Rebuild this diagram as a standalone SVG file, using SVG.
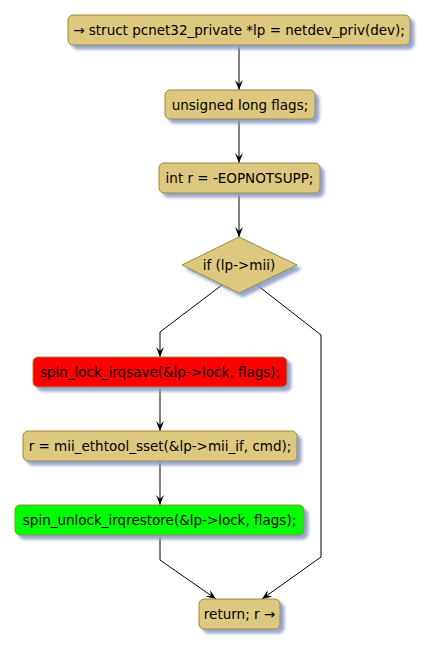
<svg xmlns="http://www.w3.org/2000/svg" width="429" height="648" viewBox="0 0 429 648">
<defs>
<filter id="sh" x="-10%" y="-20%" width="130%" height="160%">
<feGaussianBlur in="SourceAlpha" stdDeviation="1.5" result="b"/>
<feOffset in="b" dx="4" dy="4" result="o"/>
<feFlood flood-color="#8d9ec4" flood-opacity="0.9"/>
<feComposite in2="o" operator="in" result="s"/>
<feMerge><feMergeNode in="s"/><feMergeNode in="SourceGraphic"/></feMerge>
</filter>
<marker id="ah" viewBox="0 0 10 10" refX="10" refY="5" markerWidth="10" markerHeight="10" markerUnits="userSpaceOnUse" orient="auto">
<path d="M0,1 L10,5 L0,9 L4,5 Z" fill="#000"/>
</marker>
</defs>
<style>
.n{fill:#dcc87e;stroke:#9c8840;stroke-width:1;filter:url(#sh)}
.r{fill:#ff0000}
.g{fill:#00ff00}
text{font-family:"DejaVu Sans",sans-serif;font-size:13.5px;fill:#000;text-anchor:middle}
.c{fill:none;stroke:#000;stroke-width:1}
</style>
<g id="connectors">
<line class="c" x1="239" y1="45" x2="239" y2="90" marker-end="url(#ah)"/>
<line class="c" x1="239" y1="119" x2="239" y2="163" marker-end="url(#ah)"/>
<line class="c" x1="239" y1="193" x2="239" y2="237" marker-end="url(#ah)"/>
<polyline class="c" points="222,285 160,332 160,357" marker-end="url(#ah)"/>
<polyline class="c" points="257,285 321,335 321,557 262,599" marker-end="url(#ah)"/>
<line class="c" x1="160" y1="387" x2="160" y2="431" marker-end="url(#ah)"/>
<line class="c" x1="160" y1="461" x2="160" y2="505" marker-end="url(#ah)"/>
<polyline class="c" points="160,535 160,560 216,599" marker-end="url(#ah)"/>
</g>
<g id="n1"><rect class="n" x="68" y="15" width="342" height="30" rx="5"/><text x="239" y="35">→ struct pcnet32_private *lp = netdev_priv(dev);</text></g>
<g id="n2"><rect class="n" x="165" y="90" width="150" height="29" rx="5"/><text x="240" y="109.5">unsigned long flags;</text></g>
<g id="n3"><rect class="n" x="159" y="163" width="161" height="30" rx="5"/><text x="239.5" y="183">int r = -EOPNOTSUPP;</text></g>
<g id="n4"><polygon class="n" points="239,237 297,265 239,293 182,265"/><text x="239" y="270">if (lp-&gt;mii)</text></g>
<g id="n5"><rect class="n r" x="33" y="357" width="254" height="30" rx="5"/><text x="160" y="377">spin_lock_irqsave(&amp;lp-&gt;lock, flags);</text></g>
<g id="n6"><rect class="n" x="23" y="431" width="274" height="30" rx="5"/><text x="160" y="451">r = mii_ethtool_sset(&amp;lp-&gt;mii_if, cmd);</text></g>
<g id="n7"><rect class="n g" x="15" y="505" width="289" height="30" rx="5"/><text x="159.5" y="525">spin_unlock_irqrestore(&amp;lp-&gt;lock, flags);</text></g>
<g id="n8"><rect class="n" x="199" y="599" width="81" height="30" rx="5"/><text x="239.5" y="619">return; r →</text></g>
</svg>
